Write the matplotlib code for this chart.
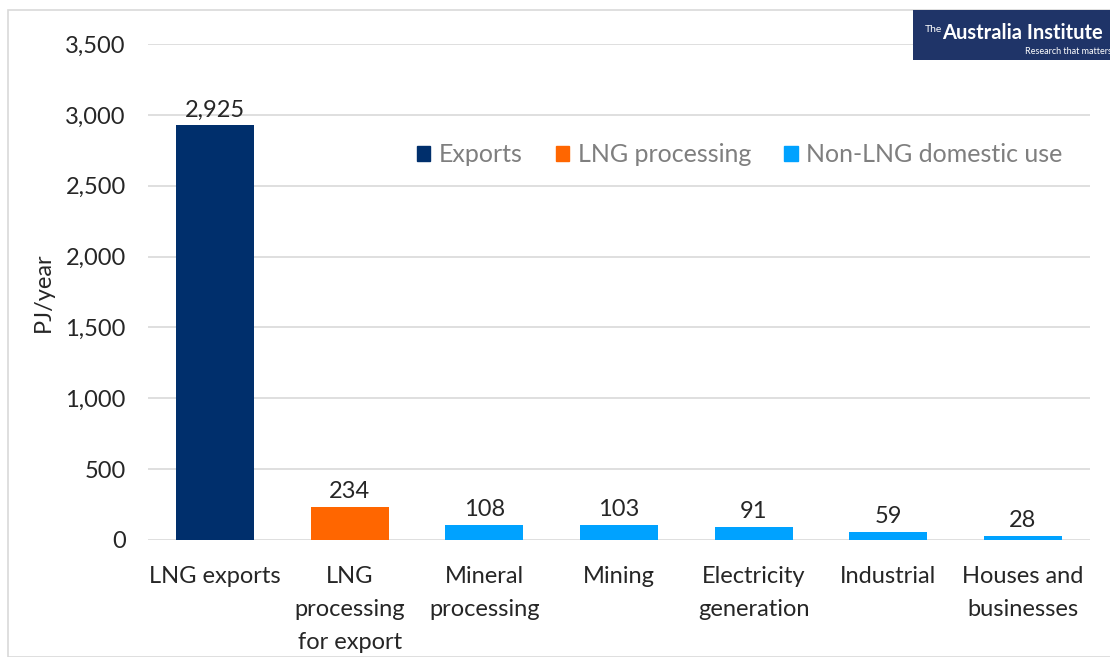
import matplotlib.pyplot as plt
from matplotlib.patches import Rectangle, Patch

plt.rcParams['font.family'] = ['Lato', 'DejaVu Sans']

# data
categories = ['LNG exports', 'LNG\nprocessing\nfor export', 'Mineral\nprocessing', 'Mining',
              'Electricity\ngeneration', 'Industrial', 'Houses and\nbusinesses']
values = [2925, 234, 108, 103, 91, 59, 28]
groups = ['Exports', 'LNG processing', 'Non-LNG domestic use', 'Non-LNG domestic use',
          'Non-LNG domestic use', 'Non-LNG domestic use', 'Non-LNG domestic use']
group_colors = {'Exports': '#002f6c', 'LNG processing': '#ff6600', 'Non-LNG domestic use': '#00a2ff'}
yticks = [0, 500, 1000, 1500, 2000, 2500, 3000, 3500]

fs = 17
fig = plt.figure(figsize=(11.1, 6.57), dpi=100)
ax = fig.add_axes([148 / 1110, 1 - 540 / 657, (1090 - 148) / 1110, (540 - 44) / 657])

x = range(len(categories))
ax.bar(x, values, width=0.58, color=[group_colors[g] for g in groups], zorder=3)
for xi, v in zip(x, values):
    ax.text(xi, v + 35, f'{v:,}', ha='center', va='bottom', fontsize=fs, color='#262626')

ax.set_xlim(-0.5, len(categories) - 0.5)
ax.set_ylim(0, 3500)
ax.set_yticks(yticks)
ax.set_yticklabels([f'{t:,}' for t in yticks], fontsize=fs, color='#262626')
ax.set_xticks(list(x))
ax.set_xticklabels(categories, fontsize=fs, color='#262626', linespacing=1.68, va='top')
ax.tick_params(axis='x', length=0, pad=19)
ax.tick_params(axis='y', length=0, pad=16)
ax.grid(axis='y', color='#d9d9d9', linewidth=1.2, zorder=0)
for s in ax.spines.values():
    s.set_visible(False)
ax.set_ylabel('PJ/year', fontsize=fs, color='#262626', labelpad=8)

handles = [Patch(color=c, label=g) for g, c in group_colors.items()]
ax.legend(handles=handles, loc='upper right', bbox_to_anchor=(0.995, 0.845), ncol=3, frameon=False,
          fontsize=fs + 1, labelcolor='#7f7f7f', handlelength=0.55, handleheight=0.55,
          handletextpad=0.35, columnspacing=1.3)

# chart border
fig.patches.append(Rectangle((8 / 1110, 0), 1, 1 - 10 / 657, transform=fig.transFigure,
                             fill=False, edgecolor='#d9d9d9', linewidth=1.2))
# logo
fig.patches.append(Rectangle((913 / 1110, 1 - 60 / 657), 1, 50 / 657, transform=fig.transFigure,
                             facecolor='#1f3468', edgecolor='none', zorder=5))
fig.text(925 / 1110, 1 - 30 / 657, 'The', color='white', fontsize=7.5, zorder=6, va='center')
fig.text(942 / 1110, 1 - 33 / 657, 'Australia Institute', color='white', fontsize=14.5,
         fontweight='bold', zorder=6, va='center')
fig.text(1025 / 1110, 1 - 51 / 657, 'Research that matters', color='white', fontsize=6.5,
         zorder=6, va='center')

fig.savefig('out.png', dpi=100)
